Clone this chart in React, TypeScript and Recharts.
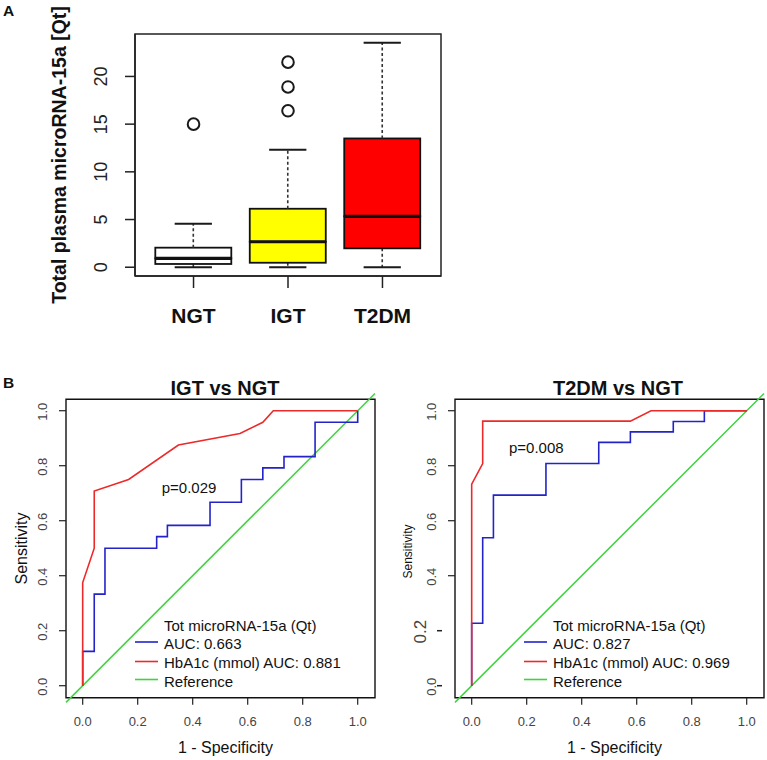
import React from "react";
import {
  ComposedChart,
  Bar,
  Scatter,
  XAxis,
  YAxis,
  LineChart,
  Line,
  ReferenceLine,
  ReferenceArea,
  Legend,
} from "recharts";

const FONT = "'Liberation Sans', Arial, Helvetica, sans-serif";

// ---- panel A: boxplot values (Qt) ----
const groups = ["NGT", "IGT", "T2DM"];
const whiskerLow = [0, 0, 0];
const q1 = [0.34, 0.47, 1.98];
const medians = [0.93, 2.67, 5.34];
const q3 = [2.05, 6.13, 13.5];
const whiskerHigh = [4.56, 12.32, 23.53];
const outliers = [[15.0], [16.4, 18.9, 21.5], []];
const boxFills = ["#ffffff", "#ffff00", "#ff0000"];
const countTicks = [0, 5, 10, 15, 20];

// ---- panel B: ROC curves (1 - specificity, sensitivity) ----
const igtMicroFpr = [0, 0, 0.042, 0.042, 0.081, 0.081, 0.269, 0.269, 0.308, 0.308, 0.463, 0.463, 0.577, 0.577, 0.655, 0.655, 0.732, 0.732, 0.845, 0.845, 1, 1];
const igtMicroTpr = [0, 0.125, 0.125, 0.333, 0.333, 0.5, 0.5, 0.542, 0.542, 0.583, 0.583, 0.667, 0.667, 0.75, 0.75, 0.792, 0.792, 0.833, 0.833, 0.958, 0.958, 1];
const igtHbaFpr = [0, 0, 0.042, 0.042, 0.167, 0.348, 0.572, 0.655, 0.693, 1];
const igtHbaTpr = [0, 0.375, 0.5, 0.708, 0.75, 0.875, 0.917, 0.958, 1, 1];

const t2dmMicroFpr = [0, 0, 0.04, 0.04, 0.079, 0.079, 0.27, 0.27, 0.462, 0.462, 0.577, 0.577, 0.733, 0.733, 0.846, 0.846, 1];
const t2dmMicroTpr = [0, 0.227, 0.227, 0.538, 0.538, 0.693, 0.693, 0.808, 0.808, 0.885, 0.885, 0.923, 0.923, 0.961, 0.961, 1, 1];
const t2dmHbaFpr = [0, 0, 0.04, 0.04, 0.577, 0.652, 1];
const t2dmHbaTpr = [0, 0.733, 0.808, 0.962, 0.962, 1, 1];

const rocTicks = [0, 0.2, 0.4, 0.6, 0.8, 1];
const rocXDomain: [number, number] = [-0.0607, 1.0629];
const rocYDomain: [number, number] = [-0.0436, 1.0415];

const BLUE = "#2323c8";
const RED = "#ec2a2a";
const GREEN = "#3fd43f";

const boxData = groups.map((name, i) => ({
  name,
  gap: whiskerLow[i],
  lowWhisk: q1[i] - whiskerLow[i],
  lower: medians[i] - q1[i],
  upper: q3[i] - medians[i],
  highWhisk: whiskerHigh[i] - q3[i],
  o1: outliers[i][0] ?? null,
  o2: outliers[i][1] ?? null,
  o3: outliers[i][2] ?? null,
  fill: boxFills[i],
}));

const toPoints = (xs: number[], ys: number[]) => xs.map((x, i) => ({ x, y: ys[i] }));

// ---------- panel A pieces ----------
const GroupTick = ({ x, y, payload }: any) => (
  <text x={x} y={y + 34.6} textAnchor="middle" fontFamily={FONT} fontSize={21} fontWeight="bold" fill="#111">
    {payload.value}
  </text>
);

const CountTick = ({ x, y, payload }: any) => (
  <text
    transform={`translate(${x - 17.6},${y}) rotate(-90)`}
    textAnchor="middle"
    fontFamily={FONT}
    fontSize={18}
    fill="#222"
  >
    {payload.value}
  </text>
);

const countLabel = (props: any) => {
  const vb = props.viewBox || { x: 0, y: 34, width: 135, height: 242 };
  return (
    <text
      transform={`translate(${vb.x + 66},${vb.y + vb.height / 2}) rotate(-90)`}
      textAnchor="middle"
      fontFamily={FONT}
      fontSize={19.5}
      fontWeight="bold"
      fill="#111"
    >
      Total plasma microRNA-15a [Qt]
    </text>
  );
};

const Empty = () => <g />;

const LowWhiskerShape = (p: any) => {
  const cx = p.x + p.width / 2;
  const cap = p.width * 0.245;
  const bottom = p.y + p.height;
  return (
    <g>
      <line x1={cx} x2={cx} y1={p.y} y2={bottom} stroke="#333" strokeWidth={1.6} strokeDasharray="3 2.5" />
      <line x1={cx - cap} x2={cx + cap} y1={bottom} y2={bottom} stroke="#1a1a1a" strokeWidth={2} />
    </g>
  );
};

const LowerBoxShape = (p: any) => (
  <rect x={p.x} y={p.y} width={p.width} height={p.height} fill={p.payload.fill} stroke="#111" strokeWidth={1.8} />
);

const UpperBoxShape = (p: any) => (
  <g>
    <rect x={p.x} y={p.y} width={p.width} height={p.height} fill={p.payload.fill} stroke="#111" strokeWidth={1.8} />
    <line x1={p.x} x2={p.x + p.width} y1={p.y + p.height} y2={p.y + p.height} stroke="#111" strokeWidth={3.2} />
  </g>
);

const HighWhiskerShape = (p: any) => {
  const cx = p.x + p.width / 2;
  const cap = p.width * 0.245;
  return (
    <g>
      <line x1={cx} x2={cx} y1={p.y + p.height} y2={p.y} stroke="#333" strokeWidth={1.6} strokeDasharray="3 2.5" />
      <line x1={cx - cap} x2={cx + cap} y1={p.y} y2={p.y} stroke="#1a1a1a" strokeWidth={2} />
    </g>
  );
};

const outlierShape = (key: string) => (p: any) =>
  p.payload && p.payload[key] != null && Number.isFinite(p.cy) ? (
    <circle cx={p.cx} cy={p.cy} r={5.8} fill="none" stroke="#1a1a1a" strokeWidth={2} />
  ) : (
    <g />
  );

const frameLine = { stroke: "#222", strokeWidth: 1.5 };

function BoxPanel() {
  return (
    <div style={{ position: "absolute", left: 0, top: 0 }}>
      <ComposedChart width={460} height={330} data={boxData} margin={{ top: 34, right: 19, bottom: 0, left: 0 }}>
        <XAxis
          dataKey="name"
          padding={{ left: 11.3, right: 11.3 }}
          height={54}
          tickSize={12}
          tickMargin={0}
          interval={0}
          tick={<GroupTick />}
          axisLine={frameLine}
          tickLine={frameLine}
        />
        <YAxis
          type="number"
          domain={[-0.92, 24.45]}
          allowDataOverflow
          ticks={countTicks}
          width={135}
          tickSize={10}
          tickMargin={0}
          tick={<CountTick />}
          axisLine={frameLine}
          tickLine={frameLine}
          label={countLabel}
        />
        <Bar dataKey="gap" stackId="box" barSize={76} shape={Empty} isAnimationActive={false} />
        <Bar dataKey="lowWhisk" stackId="box" barSize={76} shape={LowWhiskerShape} isAnimationActive={false} />
        <Bar dataKey="lower" stackId="box" barSize={76} shape={LowerBoxShape} isAnimationActive={false} />
        <Bar dataKey="upper" stackId="box" barSize={76} shape={UpperBoxShape} isAnimationActive={false} />
        <Bar dataKey="highWhisk" stackId="box" barSize={76} shape={HighWhiskerShape} isAnimationActive={false} />
        <Scatter dataKey="o1" shape={outlierShape("o1")} isAnimationActive={false} />
        <Scatter dataKey="o2" shape={outlierShape("o2")} isAnimationActive={false} />
        <Scatter dataKey="o3" shape={outlierShape("o3")} isAnimationActive={false} />
      </ComposedChart>
    </div>
  );
}

// ---------- panel B pieces ----------
const RocXTick = ({ x, y, payload }: any) => (
  <text x={x} y={y + 21} textAnchor="middle" fontFamily={FONT} fontSize={13} fill="#444">
    {Number(payload.value).toFixed(1)}
  </text>
);

// the right-hand panel in the source has a pasted-over "0.2" label and stray dashes
const RocYTick = ({ x, y, payload, edited }: any) => {
  const v = Number(payload.value);
  const label = v.toFixed(1);
  const odd = edited && (v === 0 || v === 0.2);
  const big = edited && v === 0.2;
  return (
    <g>
      {edited && !odd && <line x1={x} x2={x + 7} y1={y} y2={y} stroke="#222" strokeWidth={1.2} />}
      {odd && <line x1={x - 11} x2={x - 6} y1={y} y2={y} stroke="#222" strokeWidth={1.5} />}
      <text
        transform={`translate(${big ? x - 21.9 : x - 11.8},${y + 1}) rotate(-90)`}
        textAnchor="middle"
        fontFamily={FONT}
        fontSize={big ? 17 : 13}
        fill="#444"
      >
        {label}
      </text>
    </g>
  );
};

const specLabel = (props: any) => {
  const vb = props.viewBox || { x: 66, y: 337.7, width: 309, height: 62.3 };
  return (
    <text x={vb.x + vb.width / 2 + 5} y={vb.y + 55} textAnchor="middle" fontFamily={FONT} fontSize={16} fill="#111">
      1 - Specificity
    </text>
  );
};

const sensLabel = (small: boolean) => (props: any) => {
  const vb = props.viewBox || { x: 0, y: 39.3, width: 66, height: 298.4 };
  return (
    <text
      transform={`translate(${vb.x + (small ? 22.6 : 26.5)},${vb.y + vb.height / 2 + (small ? 3 : 0)}) rotate(-90)`}
      textAnchor="middle"
      fontFamily={FONT}
      fontSize={small ? 12 : 16}
      fill="#111"
    >
      Sensitivity
    </text>
  );
};

const RocLegend = ({ microAuc, hbaAuc }: { microAuc: string; hbaAuc: string }) => (
  <svg width={260} height={80} style={{ display: "block" }}>
    <text x={34} y={19} fontFamily={FONT} fontSize={15} fill="#111">
      Tot microRNA-15a (Qt)
    </text>
    <line x1={5} x2={28} y1={30} y2={30} stroke={BLUE} strokeWidth={1.6} />
    <text x={34} y={36.5} fontFamily={FONT} fontSize={15} fill="#111">
      {`AUC: ${microAuc}`}
    </text>
    <line x1={5} x2={28} y1={49.5} y2={49.5} stroke={RED} strokeWidth={1.6} />
    <text x={34} y={56} fontFamily={FONT} fontSize={15} fill="#111">
      {`HbA1c (mmol) AUC: ${hbaAuc}`}
    </text>
    <line x1={5} x2={28} y1={67.5} y2={67.5} stroke={GREEN} strokeWidth={1.6} />
    <text x={34} y={74.5} fontFamily={FONT} fontSize={15} fill="#111">
      Reference
    </text>
  </svg>
);

interface RocPanelProps {
  left: number;
  micro: { x: number; y: number }[];
  hba: { x: number; y: number }[];
  microAuc: string;
  hbaAuc: string;
  edited?: boolean;
}

function RocPanel({ left, micro, hba, microAuc, hbaAuc, edited = false }: RocPanelProps) {
  return (
    <div style={{ position: "absolute", left, top: 360 }}>
      <LineChart width={378} height={400} margin={{ top: 39.3, right: 3, bottom: 0, left: 0 }}>
        <XAxis
          type="number"
          dataKey="x"
          domain={rocXDomain}
          allowDataOverflow
          ticks={rocTicks}
          height={62.3}
          tickSize={7}
          tickMargin={0}
          tick={<RocXTick />}
          axisLine={false}
          tickLine={{ stroke: "#222", strokeWidth: 1.2 }}
          label={specLabel}
        />
        <YAxis
          type="number"
          domain={rocYDomain}
          allowDataOverflow
          ticks={rocTicks}
          width={66}
          tickSize={7}
          tickMargin={0}
          tick={<RocYTick edited={edited} />}
          axisLine={false}
          tickLine={edited ? false : { stroke: "#222", strokeWidth: 1.2 }}
          label={sensLabel(edited)}
        />
        <ReferenceArea
          x1={rocXDomain[0]}
          x2={rocXDomain[1]}
          y1={rocYDomain[0]}
          y2={rocYDomain[1]}
          fill="none"
          stroke="#111"
          strokeWidth={1.4}
          ifOverflow="visible"
        />
        <ReferenceLine
          segment={[
            { x: rocXDomain[0], y: rocXDomain[0] },
            { x: rocXDomain[1], y: rocXDomain[1] },
          ]}
          stroke={GREEN}
          strokeWidth={1.5}
          ifOverflow="visible"
        />
        <Line data={micro} dataKey="y" type="linear" stroke={BLUE} strokeWidth={1.6} dot={false} isAnimationActive={false} />
        <Line data={hba} dataKey="y" type="linear" stroke={RED} strokeWidth={1.6} dot={false} isAnimationActive={false} />
        <Legend
          layout="vertical"
          align="center"
          verticalAlign="middle"
          wrapperStyle={{ left: 130, top: 252, width: 260 }}
          content={() => <RocLegend microAuc={microAuc} hbaAuc={hbaAuc} />}
        />
      </LineChart>
    </div>
  );
}

export default function App() {
  return (
    <div
      style={{
        position: "absolute",
        left: 0,
        top: 0,
        width: 767,
        height: 760,
        background: "#fff",
        overflow: "hidden",
        fontFamily: FONT,
      }}
    >
      <BoxPanel />
      <RocPanel
        left={0}
        micro={toPoints(igtMicroFpr, igtMicroTpr)}
        hba={toPoints(igtHbaFpr, igtHbaTpr)}
        microAuc="0.663"
        hbaAuc="0.881"
      />
      <RocPanel
        left={389}
        micro={toPoints(t2dmMicroFpr, t2dmMicroTpr)}
        hba={toPoints(t2dmHbaFpr, t2dmHbaTpr)}
        microAuc="0.827"
        hbaAuc="0.969"
        edited
      />
      <svg width={767} height={760} style={{ position: "absolute", left: 0, top: 0, pointerEvents: "none" }}>
        {/* frame around the boxplot region (matches the chart margins above) */}
        <rect x={135} y={34} width={306} height={242} fill="none" stroke="#222" strokeWidth={1.5} />
        <text x={3} y={16} fontFamily={FONT} fontSize={15.5} fontWeight="bold" fill="#111">
          A
        </text>
        <text x={3} y={388.3} fontFamily={FONT} fontSize={15.5} fontWeight="bold" fill="#111">
          B
        </text>
        <text x={225} y={395} textAnchor="middle" fontFamily={FONT} fontSize={20} fontWeight="bold" fill="#111">
          IGT vs NGT
        </text>
        <text x={618} y={395} textAnchor="middle" fontFamily={FONT} fontSize={20} fontWeight="bold" fill="#111">
          T2DM vs NGT
        </text>
        <text x={161.7} y={492.5} fontFamily={FONT} fontSize={15} fill="#111">
          p=0.029
        </text>
        <text x={509} y={452.5} fontFamily={FONT} fontSize={15} fill="#111">
          p=0.008
        </text>
      </svg>
    </div>
  );
}
